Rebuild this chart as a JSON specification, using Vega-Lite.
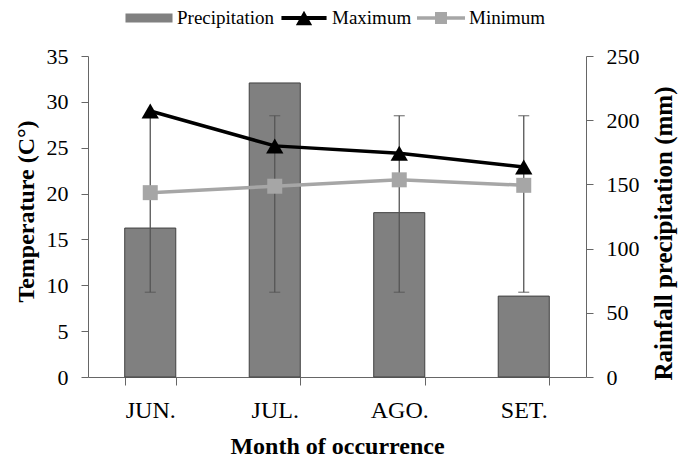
{
  "$schema": "https://vega.github.io/schema/vega-lite/v6.json",
  "width": 498,
  "height": 321,
  "autosize": {"type": "none"},
  "padding": {"left": 88, "top": 56, "right": 92, "bottom": 86},
  "background": "white",
  "config": {
    "view": {"stroke": null},
    "font": "Liberation Serif",
    "axis": {"grid": false, "domainColor": "#666666", "tickColor": "#666666", "labelColor": "#000000", "titleColor": "#000000", "labelFont": "Liberation Serif", "titleFont": "Liberation Serif", "titleFontWeight": "bold"}
  },
  "datasets": {
    "precip": [
      {"month": "JUN.", "precip": 116, "low": 66, "high": 203.5},
      {"month": "JUL.", "precip": 229, "low": 66, "high": 203.5},
      {"month": "AGO.", "precip": 128, "low": 66, "high": 203.5},
      {"month": "SET.", "precip": 63, "low": 66, "high": 203.5}
    ],
    "temp": [
      {"month": "JUN.", "series": "Maximum", "value": 29.0},
      {"month": "JUL.", "series": "Maximum", "value": 25.2},
      {"month": "AGO.", "series": "Maximum", "value": 24.4},
      {"month": "SET.", "series": "Maximum", "value": 22.9},
      {"month": "JUN.", "series": "Minimum", "value": 20.1},
      {"month": "JUL.", "series": "Minimum", "value": 20.8},
      {"month": "AGO.", "series": "Minimum", "value": 21.5},
      {"month": "SET.", "series": "Minimum", "value": 20.9}
    ]
  },
  "encoding": {
    "x": {
      "field": "month", "type": "nominal", "sort": ["JUN.", "JUL.", "AGO.", "SET."],
      "scale": {"paddingInner": 0.59, "paddingOuter": 0.295},
      "axis": {"title": "Month of occurrence", "labelAngle": 0, "labelFontSize": 24, "tickBand": "extent", "tickSize": 8, "labelPadding": 13, "titleFontSize": 24, "titleY": 57, "titleBaseline": "top"}
    }
  },
  "layer": [
    {
      "data": {"name": "precip"},
      "layer": [
        {"mark": {"type": "bar", "fill": "#808080", "stroke": "#404040", "strokeWidth": 1},
          "encoding": {
            "y": {"field": "precip", "type": "quantitative", "scale": {"domain": [0, 250], "nice": false},
              "axis": {"orient": "right", "values": [0, 50, 100, 150, 200, 250], "title": "Rainfall precipitation (mm)", "labelFontSize": 22, "tickSize": 7, "labelPadding": 13, "titleFontSize": 25, "titleAngle": 270, "titleX": 77, "titleY": 177, "titleBaseline": "middle", "titleAlign": "center"}}
          }},
        {"mark": {"type": "rule", "stroke": "#555555", "strokeWidth": 1.3},
          "encoding": {"y": {"field": "low", "type": "quantitative", "scale": {"domain": [0, 250], "nice": false}}, "y2": {"field": "high"}}},
        {"mark": {"type": "tick", "color": "#555555", "size": 11, "thickness": 1.3},
          "encoding": {"y": {"field": "high", "type": "quantitative", "scale": {"domain": [0, 250], "nice": false}}}},
        {"mark": {"type": "tick", "color": "#555555", "size": 11, "thickness": 1.3},
          "encoding": {"y": {"field": "low", "type": "quantitative", "scale": {"domain": [0, 250], "nice": false}}}}
      ]
    },
    {
      "data": {"name": "temp"},
      "encoding": {
        "y": {"field": "value", "type": "quantitative", "scale": {"domain": [0, 35], "nice": false},
          "axis": {"orient": "left", "values": [0, 5, 10, 15, 20, 25, 30, 35], "title": "Temperature (C°)", "labelFontSize": 22, "tickSize": 7, "labelPadding": 13, "titleFontSize": 24, "titleAngle": 270, "titleX": -62, "titleY": 155, "titleBaseline": "middle", "titleAlign": "center"}}
      },
      "layer": [
        {"transform": [{"filter": "datum.series == 'Minimum'"}],
          "mark": {"type": "line", "color": "#a6a6a6", "strokeWidth": 3.5, "point": {"filled": true, "shape": "square", "size": 225, "color": "#a6a6a6"}}},
        {"transform": [{"filter": "datum.series == 'Maximum'"}],
          "mark": {"type": "line", "color": "#000000", "strokeWidth": 3.5, "point": {"filled": true, "shape": "triangle-up", "size": 300, "color": "#000000"}}},
        {"mark": {"type": "point", "filled": true, "opacity": 0},
          "encoding": {
            "color": {"field": "series", "type": "nominal",
              "scale": {"domain": ["Precipitation", "Maximum", "Minimum"], "range": ["#808080", "#000000", "#a6a6a6"]},
              "legend": {"orient": "none", "legendX": 37, "legendY": -62, "direction": "horizontal", "title": null, "symbolSize": 2304, "symbolStrokeWidth": 0, "symbolOpacity": 1, "labelFontSize": 19, "labelFont": "Liberation Serif", "labelColor": "#000000", "labelOffset": 4, "columnPadding": 5}},
            "shape": {"field": "series", "type": "nominal",
              "scale": {"domain": ["Precipitation", "Maximum", "Minimum"], "range": ["M-0.98,-0.19H0.98V0.19H-0.98Z", "M-0.94,-0.08H0.94V0.08H-0.94ZM-0.34,0.3L0,-0.3L0.34,0.3Z", "M-1,-0.07H1V0.07H-1ZM-0.25,-0.25H0.25V0.25H-0.25Z"]},
              "legend": {"orient": "none", "legendX": 37, "legendY": -62, "direction": "horizontal", "title": null, "symbolSize": 2304, "symbolStrokeWidth": 0, "symbolOpacity": 1, "labelFontSize": 19, "labelFont": "Liberation Serif", "labelColor": "#000000", "labelOffset": 4, "columnPadding": 5}}
          }}
      ]
    }
  ],
  "resolve": {"scale": {"y": "independent"}}
}
